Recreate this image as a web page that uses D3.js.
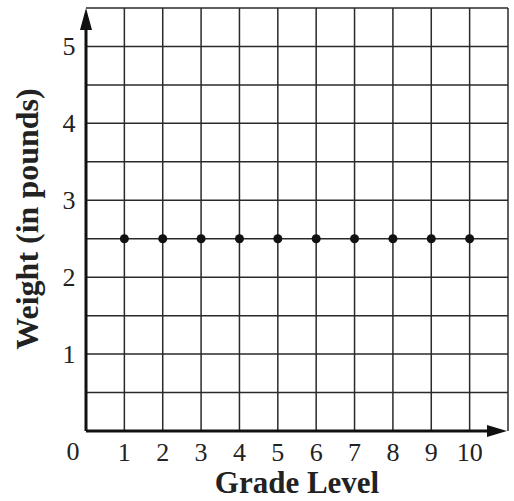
<!DOCTYPE html>
<html>
<head>
<meta charset="utf-8">
<script src="https://cdn.jsdelivr.net/npm/d3@7"></script>
<style>
  body { margin: 0; background: #fff; }
  text { font-family: "Liberation Serif", "Times New Roman", serif; fill: #222; }
</style>
</head>
<body>
<div id="chart"></div>
<script>
const grades = [1, 2, 3, 4, 5, 6, 7, 8, 9, 10];
const weights = [2.5, 2.5, 2.5, 2.5, 2.5, 2.5, 2.5, 2.5, 2.5, 2.5];
const xTicks = [1, 2, 3, 4, 5, 6, 7, 8, 9, 10];
const yTicks = [1, 2, 3, 4, 5];
const xGrid = d3.range(1, 12);
const yGrid = d3.range(0.5, 5.51, 0.5);

const width = 514;
const height = 501;
const margin = { top: 8, right: 6, bottom: 70, left: 86 };

const svg = d3.select('#chart')
  .append('svg')
  .attr('width', width)
  .attr('height', height);

const x = d3.scaleLinear()
  .domain([0, 11])
  .range([margin.left, width - margin.right]);

const y = d3.scaleLinear()
  .domain([0, 5.5])
  .range([height - margin.bottom, margin.top]);

// grid
svg.append('g')
  .selectAll('line')
  .data(xGrid)
  .join('line')
  .attr('x1', d => x(d))
  .attr('x2', d => x(d))
  .attr('y1', y(0))
  .attr('y2', y(5.5))
  .attr('stroke', '#2a2a2a')
  .attr('stroke-width', 1.5);

svg.append('g')
  .selectAll('line')
  .data(yGrid)
  .join('line')
  .attr('x1', x(0))
  .attr('x2', x(11))
  .attr('y1', d => y(d))
  .attr('y2', d => y(d))
  .attr('stroke', '#2a2a2a')
  .attr('stroke-width', 1.5);

// axes with arrows
svg.append('line')
  .attr('x1', x(0)).attr('x2', x(11) - 14)
  .attr('y1', y(0)).attr('y2', y(0))
  .attr('stroke', '#111').attr('stroke-width', 3);

svg.append('line')
  .attr('x1', x(0)).attr('x2', x(0))
  .attr('y1', y(0)).attr('y2', y(5.5) + 14)
  .attr('stroke', '#111').attr('stroke-width', 3);

const ax = x(11) - 1;
const ay = y(0);
svg.append('path')
  .attr('d', `M${ax},${ay} L${ax - 20},${ay - 6} L${ax - 20},${ay + 6} Z`)
  .attr('fill', '#111');

const tx = x(0);
const ty = y(5.5);
svg.append('path')
  .attr('d', `M${tx},${ty} L${tx - 6},${ty + 22} L${tx + 6},${ty + 22} Z`)
  .attr('fill', '#111');

// tick labels
svg.append('g')
  .selectAll('text')
  .data(xTicks)
  .join('text')
  .attr('x', d => x(d))
  .attr('y', y(0) + 30)
  .attr('text-anchor', 'middle')
  .attr('font-size', 26)
  .text(d => d);

svg.append('text')
  .attr('x', x(0) - 13)
  .attr('y', y(0) + 29)
  .attr('text-anchor', 'middle')
  .attr('font-size', 26)
  .text('0');

svg.append('g')
  .selectAll('text')
  .data(yTicks)
  .join('text')
  .attr('x', x(0) - 17)
  .attr('y', d => y(d) + 9)
  .attr('text-anchor', 'middle')
  .attr('font-size', 26)
  .text(d => d);

// points
svg.append('g')
  .selectAll('circle')
  .data(grades)
  .join('circle')
  .attr('cx', d => x(d))
  .attr('cy', (d, i) => y(weights[i]))
  .attr('r', 4.5)
  .attr('fill', '#111');

// titles
svg.append('text')
  .attr('x', 297)
  .attr('y', 493)
  .attr('text-anchor', 'middle')
  .attr('font-size', 31)
  .attr('font-weight', 'bold')
  .text('Grade Level');

svg.append('text')
  .attr('transform', `translate(38,219) rotate(-90)`)
  .attr('text-anchor', 'middle')
  .attr('font-size', 32)
  .attr('font-weight', 'bold')
  .text('Weight (in pounds)');
</script>
</body>
</html>
